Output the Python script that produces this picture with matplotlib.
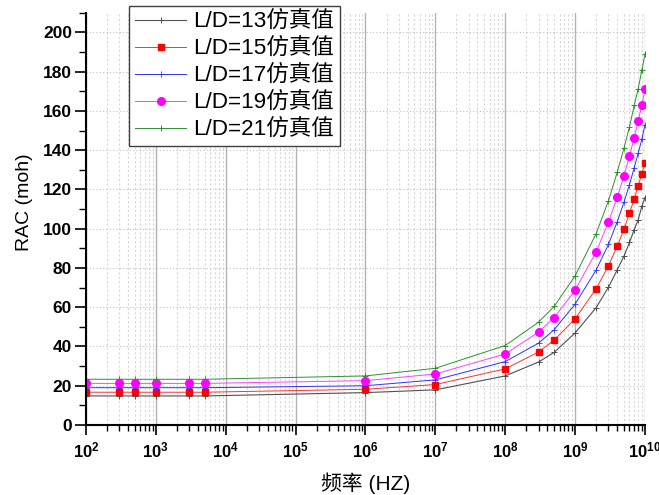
import matplotlib
matplotlib.use("Agg")
import matplotlib.pyplot as plt
from matplotlib.ticker import LogLocator, MultipleLocator, FixedLocator, NullFormatter

plt.rcParams['font.family'] = ['Liberation Sans', 'Noto Sans CJK SC']
plt.rcParams['mathtext.fontset'] = 'custom'
plt.rcParams['mathtext.rm'] = 'Liberation Sans:bold'
plt.rcParams['mathtext.default'] = 'rm'

# frequency points (Hz)
freq = [1e2, 3e2, 5e2, 1e3, 3e3, 5e3, 1e6, 1e7, 1e8, 3e8, 5e8,
        1e9, 2e9, 3e9, 4e9, 5e9, 6e9, 7e9, 8e9, 9e9, 1e10]

# RAC values (moh)
rac_13 = [14.8, 14.8, 14.8, 14.8, 14.8, 14.8, 16.5, 17.9, 25.0, 32.1, 37.0,
          46.9, 59.8, 70.2, 79.0, 86.0, 93.0, 99.5, 104.6, 111.4, 115.9]
rac_15 = [16.7, 16.7, 16.7, 16.7, 16.7, 16.7, 18.2, 20.6, 28.6, 37.2, 43.2,
          54.1, 69.4, 81.1, 91.0, 99.8, 107.9, 115.1, 121.9, 127.9, 133.7]
rac_17 = [19.0, 19.0, 19.0, 19.0, 19.0, 19.0, 20.0, 23.0, 32.3, 41.7, 48.5,
          61.6, 79.0, 92.0, 103.5, 113.5, 122.5, 131.0, 138.5, 145.5, 153.0]
rac_19 = [21.2, 21.2, 21.2, 21.2, 21.2, 21.2, 22.6, 26.0, 36.2, 47.3, 54.7,
          68.7, 88.2, 103.4, 116.0, 127.0, 137.0, 146.4, 155.0, 163.0, 171.0]
rac_21 = [23.3, 23.3, 23.3, 23.3, 23.3, 23.3, 25.0, 28.9, 40.5, 52.4, 60.4,
          76.0, 97.5, 114.3, 128.7, 141.0, 151.9, 162.8, 171.4, 180.7, 189.0]

labels = ["L/D=13仿真值", "L/D=15仿真值", "L/D=17仿真值", "L/D=19仿真值", "L/D=21仿真值"]

fig = plt.figure(figsize=(6.59, 4.95), dpi=100)
ax = fig.add_axes([86 / 659, 1 - 425 / 495, 559 / 659, 412.2 / 495])

ax.plot(freq, rac_13, color='#505050', lw=0.8, marker='+', ms=5, mew=0.7, label=labels[0])
ax.plot(freq, rac_15, color='#ff3030', lw=0.7, marker='s', ms=5, mec='#ff0000', mfc='#ff0000', label=labels[1])
ax.plot(freq, rac_17, color='#3030ff', lw=0.7, marker='+', ms=5, mew=0.6, label=labels[2])
ax.plot(freq, rac_19, color='#ff40ff', lw=0.7, marker='o', ms=5.5, mec='#ff00ff', mfc='#ff00ff', label=labels[3])
ax.plot(freq, rac_21, color='#309030', lw=0.7, marker='+', ms=5, mew=0.7, label=labels[4])

ax.set_xscale('log')
ax.set_xlim(1e2, 1e10)
ax.set_ylim(0, 210)

ax.xaxis.set_major_locator(LogLocator(base=10, numticks=20))
ax.xaxis.set_minor_locator(LogLocator(base=10, subs=range(2, 10), numticks=100))
ax.xaxis.set_minor_formatter(NullFormatter())
ax.yaxis.set_major_locator(FixedLocator(range(0, 201, 20)))
ax.yaxis.set_minor_locator(MultipleLocator(10))

ax.grid(True, which='major', axis='x', color='#b4b4b4', lw=1.0, ls='-')
ax.grid(True, which='minor', axis='x', color='#d8d8d8', lw=0.8, ls=(0, (2, 2)))
ax.grid(True, which='major', axis='y', color='#c0c0c0', lw=0.8, ls=(0, (1, 2)))
ax.set_axisbelow(True)

for s in ['top', 'right']:
    ax.spines[s].set_visible(False)
for s in ['left', 'bottom']:
    ax.spines[s].set_linewidth(1.5)

ax.tick_params(axis='x', which='major', direction='out', length=7, width=1.2, labelsize=12, pad=4)
ax.tick_params(axis='x', which='minor', direction='out', length=4, width=1.0)
ax.tick_params(axis='y', which='major', direction='out', length=8, width=1.2, labelsize=12.5, pad=2)
ax.tick_params(axis='y', which='minor', direction='out', length=5, width=1.0)
for t in ax.get_yticklabels() + ax.get_xticklabels():
    t.set_fontweight('bold')

ax.set_ylabel("RAC (moh)", fontsize=14)
ax.yaxis.set_label_coords(-0.094, 0.54)
ax.set_xlabel("频率 (HZ)", fontsize=15)
ax.xaxis.set_label_coords(0.5, -0.114)

leg = fig.legend(loc='upper left', bbox_to_anchor=(129 / 659, 1 - 5.7 / 495),
                 bbox_transform=fig.transFigure, borderaxespad=0, fontsize=16.2,
                 handlelength=2.3, handletextpad=0.3, labelspacing=0.26,
                 borderpad=0.25, fancybox=False, framealpha=1)
leg.get_frame().set_edgecolor('#404040')
leg.get_frame().set_linewidth(1.0)

fig.savefig("out.png", dpi=100)
